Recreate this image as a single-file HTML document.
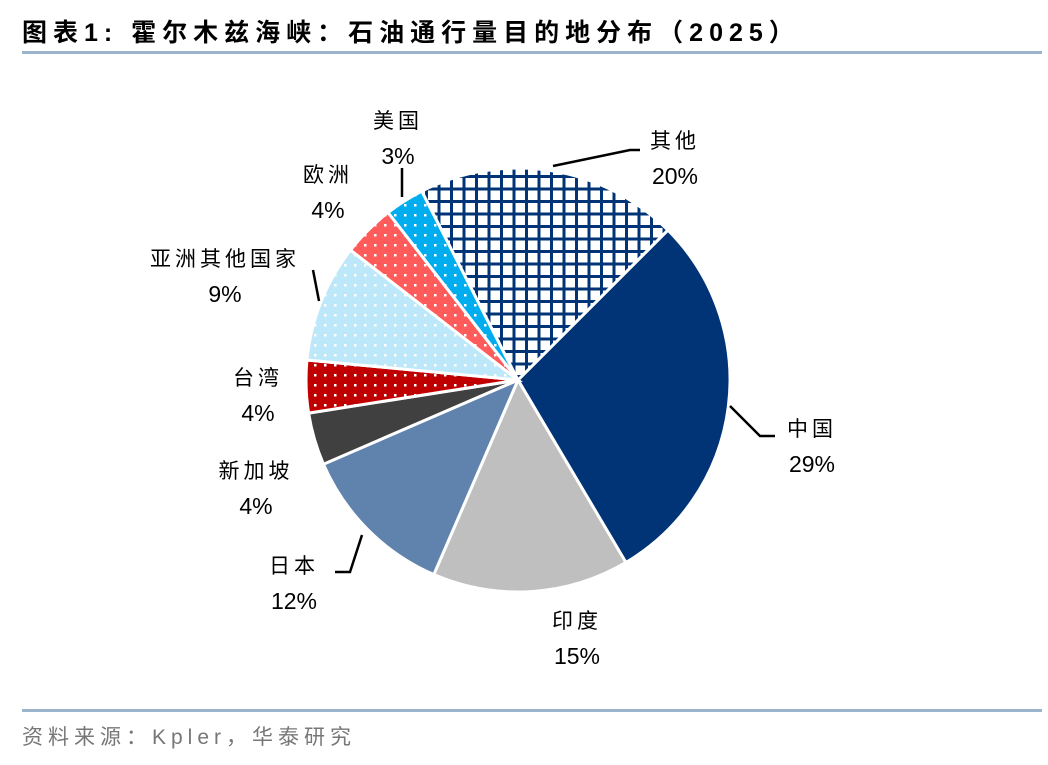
<!DOCTYPE html>
<html><head><meta charset="utf-8"><style>
body{margin:0;background:#fff;}
svg text{font-family:"Liberation Sans","Noto Sans CJK SC",sans-serif;}
</style></head><body>
<svg width="1048" height="760" viewBox="0 0 1048 760">
<defs>
<pattern id="grid" width="12.5" height="12.5" patternUnits="userSpaceOnUse">
<rect width="12.5" height="12.5" fill="#fff"/>
<rect x="0" y="0" width="3" height="12.5" fill="#003476"/>
<rect x="0" y="0" width="12.5" height="3" fill="#003476"/>
</pattern>
<pattern id="dotRed" width="10" height="10" patternUnits="userSpaceOnUse"><rect width="10" height="10" fill="#C00000"/><rect x="4" y="4" width="2.5" height="2.5" fill="#fff"/></pattern>
<pattern id="dotLB" width="10" height="10" patternUnits="userSpaceOnUse"><rect width="10" height="10" fill="#BDE8FA"/><rect x="4" y="4" width="2.5" height="2.5" fill="#fff"/></pattern>
<pattern id="dotSal" width="10" height="10" patternUnits="userSpaceOnUse"><rect width="10" height="10" fill="#FF5B5B"/><rect x="4" y="4" width="2.5" height="2.5" fill="#fff"/></pattern>
<pattern id="dotBlue" width="10" height="10" patternUnits="userSpaceOnUse"><rect width="10" height="10" fill="#00AEEF"/><rect x="4" y="4" width="2.5" height="2.5" fill="#fff"/></pattern>
</defs>
<text x="22" y="41" font-size="25" font-weight="bold" letter-spacing="6">图表1:  霍尔木兹海峡：石油通行量目的地分布（2025）</text>
<rect x="22" y="51" width="1020" height="3" fill="#9BB3CB"/>
<g id="pie"></g>
<g id="labels" font-size="21" fill="#000" text-anchor="middle"></g>
<g stroke="#000" stroke-width="2.5" fill="none">
<polyline points="553,166 630,150 640,150"/>
<polyline points="730,406 760,436 775,436"/>
<polyline points="362,535 350,572 335,572"/>
<polyline points="313,270 319,301"/>
<polyline points="402,168 402,197"/>
</g>
<rect x="22" y="709" width="1020" height="3" fill="#9BB3CB"/>
<text x="22" y="744" font-size="21" fill="#777" letter-spacing="5">资料来源：Kpler，华泰研究</text>
</svg>
<script>
const categories=["中国","印度","日本","新加坡","台湾","亚洲其他国家","欧洲","美国","其他"];
const values=[29,15,12,4,4,9,4,3,20];
const fills=["#003476","#BFBFBF","#5F83AD","#404040","url(#dotRed)","url(#dotLB)","url(#dotSal)","url(#dotBlue)","url(#grid)"];
const labelPos=[[812,436],[577,628],[294,573],[256,478],[258,385],[225,266],[328,182],[398,128],[675,148]];
const cx=518,cy=380,r=212,start=45;
const ns="http://www.w3.org/2000/svg";
const pie=document.getElementById('pie'),lab=document.getElementById('labels');
const total=values.reduce((a,b)=>a+b,0);
let a=start;
function pt(deg,rr){const t=deg*Math.PI/180;return [cx+rr*Math.sin(t),cy-rr*Math.cos(t)];}
values.forEach((v,i)=>{
 const a2=a+v/total*360;
 const p1=pt(a,r),p2=pt(a2,r);
 const large=(a2-a)>180?1:0;
 const path=document.createElementNS(ns,'path');
 path.setAttribute('d',`M${cx},${cy}L${p1[0]},${p1[1]}A${r},${r} 0 ${large} 1 ${p2[0]},${p2[1]}Z`);
 path.setAttribute('fill',fills[i]);
 path.setAttribute('stroke','#fff');
 path.setAttribute('stroke-width','3');
 
 
 pie.appendChild(path);
 const [lx,ly]=labelPos[i];
 const t1=document.createElementNS(ns,'text');
 t1.setAttribute('x',lx);t1.setAttribute('y',ly);t1.setAttribute('letter-spacing','4');
 t1.textContent=categories[i];
 
 
 lab.appendChild(t1);
 const t2=document.createElementNS(ns,'text');
 t2.setAttribute('x',lx);t2.setAttribute('y',ly+36);t2.setAttribute('font-size','23');
 t2.textContent=values[i]+'%';
 
 
 lab.appendChild(t2);
 a=a2;
});
</script>
</body></html>
